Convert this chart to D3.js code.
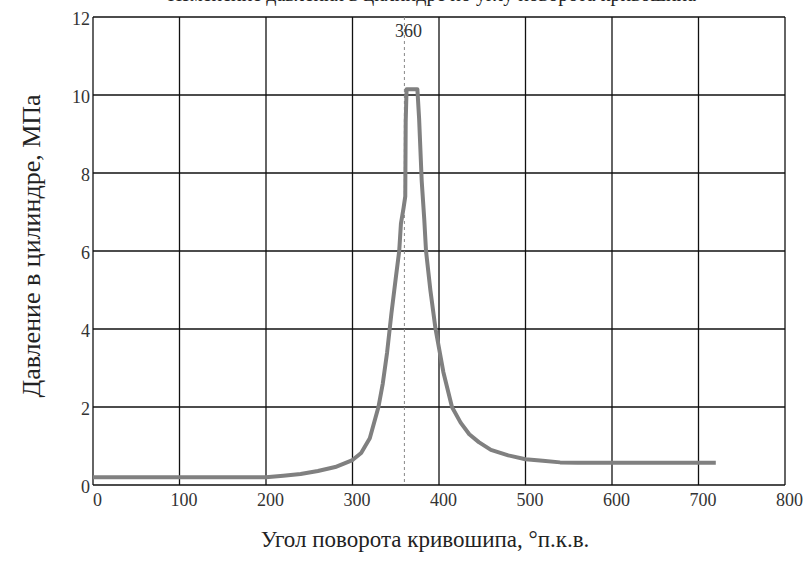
<!DOCTYPE html>
<html>
<head>
<meta charset="utf-8">
<script src="https://d3js.org/d3.v7.min.js"></script>
<style>
  body { margin: 0; background: #fff; }
  svg text { font-family: "Liberation Serif", "DejaVu Serif", serif; }
</style>
</head>
<body>
<div id="chart"></div>
<script>
// crank angle, deg
const angle = [0, 100, 200, 220, 240, 260, 280, 300, 310, 320, 330, 335, 340, 345, 350, 354, 356, 359, 361, 361.5, 362.5, 363.5,
  375, 377, 380, 383, 385, 390, 396, 405, 415, 425, 435, 446, 460, 480, 500, 520, 540, 560, 600, 650, 700, 720];
// cylinder pressure, MPa
const pressure = [0.2, 0.2, 0.2, 0.24, 0.28, 0.36, 0.46, 0.64, 0.82, 1.2, 2.0, 2.6, 3.4, 4.4, 5.3, 6.0, 6.7, 7.1, 7.4, 9.3, 10.15, 10.15,
  10.15, 9.4, 7.8, 6.8, 6.0, 5.0, 4.0, 2.9, 2.0, 1.6, 1.3, 1.1, 0.9, 0.76, 0.66, 0.62, 0.58, 0.57, 0.57, 0.57, 0.57, 0.57];
const xTicks = [0, 100, 200, 300, 400, 500, 600, 700, 800];
const yTicks = [0, 2, 4, 6, 8, 10, 12];
const markerAngle = 360;

const width = 807, height = 565;
const margin = {left: 93, right: 22, top: 17, bottom: 80};
const serif = '"Liberation Serif", "DejaVu Serif", serif';

const svg = d3.select('#chart').append('svg')
    .attr('width', width)
    .attr('height', height);

const x = d3.scaleLinear().domain([0, 800]).range([margin.left, width - margin.right]);
const y = d3.scaleLinear().domain([0, 12]).range([height - margin.bottom, margin.top]);

// title, mostly cut off by the top edge (as in the source image)
svg.append('text')
    .attr('x', 432)
    .attr('y', 0.5)
    .attr('text-anchor', 'middle')
    .attr('font-size', 20)
    .attr('fill', '#222')
    .text('Изменение давления в цилиндре по углу поворота кривошипа');

// grid
const grid = svg.append('g');
grid.selectAll('line.v')
    .data(xTicks)
    .enter().append('line')
      .attr('x1', d => x(d)).attr('x2', d => x(d))
      .attr('y1', y(0)).attr('y2', y(12))
      .attr('stroke', '#111').attr('stroke-width', 1.3);
grid.selectAll('line.h')
    .data(yTicks)
    .enter().append('line')
      .attr('x1', x(0)).attr('x2', x(800))
      .attr('y1', d => y(d)).attr('y2', d => y(d))
      .attr('stroke', '#111').attr('stroke-width', 1.3);

// tick labels
const xAxis = d3.axisBottom(x).tickValues(xTicks).tickSize(0).tickPadding(0);
const gx = svg.append('g')
    .attr('transform', 'translate(4,' + (y(0) + 8) + ')')
    .call(xAxis);
gx.select('.domain').remove();
gx.attr('font-family', null).attr('font-size', null);
gx.selectAll('text')
    .style('font-family', serif)
    .style('font-size', '18px')
    .attr('fill', '#333');

const yAxis = d3.axisLeft(y).tickValues(yTicks).tickSize(0).tickPadding(3);
const gy = svg.append('g')
    .attr('transform', 'translate(' + x(0) + ',2)')
    .call(yAxis);
gy.select('.domain').remove();
gy.attr('font-family', null).attr('font-size', null);
gy.selectAll('text')
    .style('font-family', serif)
    .style('font-size', '18px')
    .attr('fill', '#333');

// marker at TDC
svg.append('line')
    .attr('x1', x(markerAngle)).attr('x2', x(markerAngle))
    .attr('y1', y(12)).attr('y2', y(0))
    .attr('stroke', '#888').attr('stroke-width', 1)
    .attr('stroke-dasharray', '3,3');
svg.append('text')
    .attr('x', x(markerAngle) + 4)
    .attr('y', y(12) + 20)
    .attr('text-anchor', 'middle')
    .style('font-size', '18px')
    .attr('fill', '#333')
    .text(markerAngle);

// pressure curve
const line = d3.line()
    .x((d, i) => x(angle[i]))
    .y(d => y(d));
svg.append('path')
    .datum(pressure)
    .attr('fill', 'none')
    .attr('stroke', '#808080')
    .attr('stroke-width', 4)
    .attr('stroke-linejoin', 'round')
    .attr('d', line);

// axis titles
svg.append('text')
    .attr('x', 425)
    .attr('y', 547)
    .attr('text-anchor', 'middle')
    .style('font-size', '23px')
    .attr('fill', '#222')
    .text('Угол поворота кривошипа, °п.к.в.');

svg.append('text')
    .attr('transform', 'translate(40,246) rotate(-90)')
    .attr('text-anchor', 'middle')
    .style('font-size', '26px')
    .attr('fill', '#222')
    .text('Давление в цилиндре, МПа');
</script>
</body>
</html>
